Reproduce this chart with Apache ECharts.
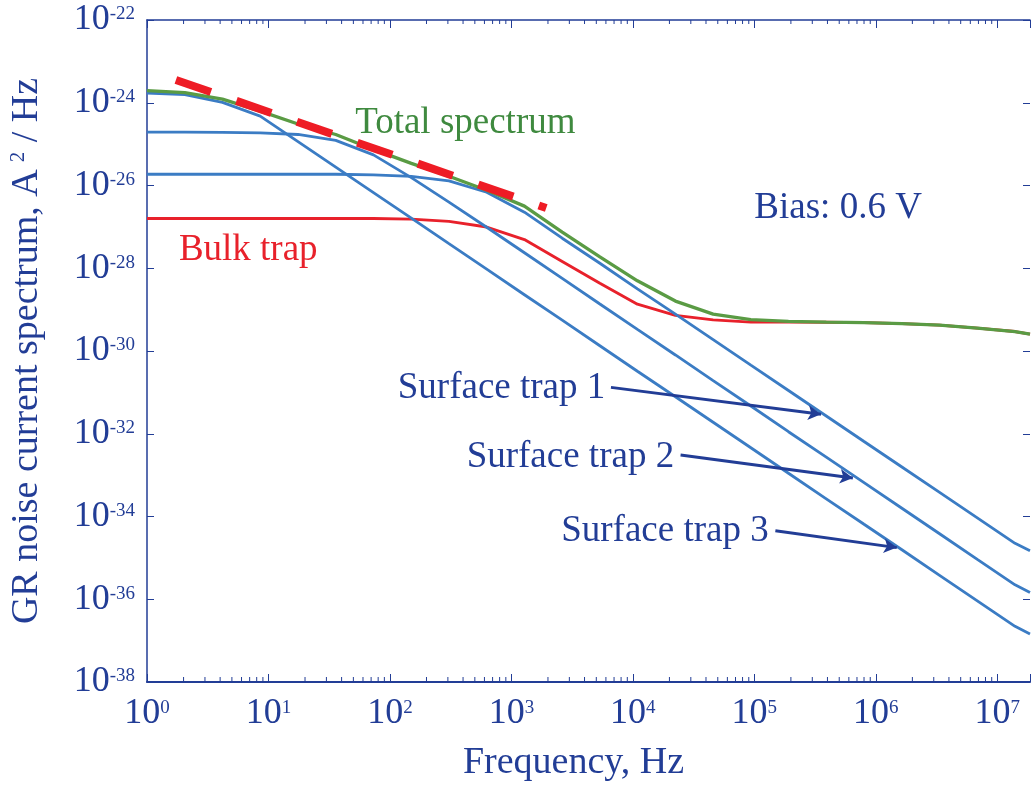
<!DOCTYPE html>
<html>
<head>
<meta charset="utf-8">
<script src="https://cdn.jsdelivr.net/npm/echarts@6/dist/echarts.min.js"></script>
<style>
  html, body { margin: 0; padding: 0; background: #fff; }
  #chart { width: 1033px; height: 787px; }
</style>
</head>
<body>
<div id="chart"></div>
<script>
// frequency grid, Hz
var freq = [1, 2.05, 4.18, 8.55, 17.5, 35.8, 73.2, 150, 306, 626, 1280, 2620, 5350,
  10900, 22400, 45800, 93600, 191000, 391000, 800000, 1.64e6, 3.35e6, 6.85e6, 1.40e7, 1.86e7];

// spectra, A^2/Hz
var totalSpectrum = [1.96e-24, 1.75e-24, 1.22e-24, 6.29e-25, 3.06e-25, 1.71e-25, 7.45e-26, 3.43e-26,
  1.67e-26, 7.69e-27, 3.17e-27, 7.50e-28, 1.88e-28, 4.97e-29, 1.61e-29, 7.76e-30, 5.73e-30,
  5.18e-30, 5.00e-30, 4.86e-30, 4.60e-30, 4.22e-30, 3.58e-30, 2.95e-30, 2.56e-30];
var bulkTrap = [1.60e-27, 1.60e-27, 1.60e-27, 1.60e-27, 1.60e-27, 1.60e-27, 1.60e-27, 1.54e-27,
  1.36e-27, 9.90e-28, 4.95e-28, 1.46e-28, 4.33e-29, 1.35e-29, 7.26e-30, 5.66e-30, 4.99e-30,
  4.99e-30, 4.96e-30, 4.85e-30, 4.59e-30, 4.22e-30, 3.58e-30, 2.95e-30, 2.56e-30];
var surfaceTrap1 = [1.87e-26, 1.87e-26, 1.87e-26, 1.87e-26, 1.87e-26, 1.87e-26, 1.81e-26, 1.67e-26,
  1.30e-26, 6.88e-27, 2.27e-27, 5.32e-28, 1.32e-28, 3.17e-29, 7.76e-30, 1.88e-30, 4.55e-31,
  1.11e-31, 2.69e-32, 6.50e-33, 1.57e-33, 3.81e-34, 9.23e-35, 2.25e-35, 1.48e-35];
var surfaceTrap2 = [1.94e-25, 1.94e-25, 1.92e-25, 1.87e-25, 1.71e-25, 1.23e-25, 5.49e-26, 1.55e-26,
  3.98e-27, 9.79e-28, 2.37e-28, 5.71e-29, 1.37e-29, 3.33e-30, 8.02e-31, 1.93e-31, 4.68e-32,
  1.12e-32, 2.72e-33, 6.56e-34, 1.58e-34, 3.83e-35, 9.20e-36, 2.23e-36, 1.46e-36];
var surfaceTrap3 = [1.72e-24, 1.57e-24, 1.02e-24, 4.74e-25, 1.15e-25, 2.77e-26, 6.71e-27, 1.62e-27,
  3.92e-28, 9.48e-29, 2.29e-29, 5.55e-30, 1.34e-30, 3.24e-31, 7.84e-32, 1.90e-32, 4.59e-33,
  1.11e-33, 2.68e-34, 6.49e-35, 1.57e-35, 3.79e-36, 9.17e-37, 2.22e-37, 1.45e-37];

// 1/f guide (red dashed)
var fitFreq = [1.73, 1936];
var fitValue = [3.56e-24, 2.85e-27];

// annotation anchors [freq, value]
var labelTotal = [51.7, 3.14e-25];
var labelBulk = [1.83, 2.76e-28];
var labelBias = [1.0e5, 2.83e-27];
var labelTrap1 = [116, 1.25e-31];
var labelTrap2 = [428, 2.74e-33];
var labelTrap3 = [2570, 4.29e-35];
var arrowTrap1 = [[6600, 1.32e-31], [3.54e5, 2.96e-32]];
var arrowTrap2 = [[24700, 3.06e-33], [6.48e5, 8.55e-34]];
var arrowTrap3 = [[1.49e5, 4.54e-35], [1.49e6, 1.77e-35]];

var xMin = 1, xMax = 1.86e7, yMin = 1e-38, yMax = 1e-22;

// echarts rounds very small numbers to 0, so values are plotted shifted by 10^30
// and the tick labels shift the exponent back
var yShift = 30;
var yFactor = Math.pow(10, yShift);

var navy = '#223d96';
var blue = '#3b7cc4';
var green = '#5a9b44';
var red = '#e8212b';
var font = 'Liberation Serif';

function pt(f, v) { return [f, v * yFactor]; }
function pairs(xs, ys) {
  return xs.map(function (x, i) { return pt(x, ys[i]); });
}

// minor tick positions for the frequency axis (2..9 per decade)
var minorTicks = [];
for (var k = 0; k < 8; k++) {
  for (var m = 2; m < 10; m++) {
    var t = m * Math.pow(10, k);
    if (t < xMax) minorTicks.push([t, yMin * yFactor]);
  }
}

function powLabel(offset) {
  return function (v) {
    var e = Math.log10(v);
    var r = Math.round(e);
    if (Math.abs(e - r) > 0.01) return '';
    return '{b|10}{s|' + (r - offset) + '}';
  };
}

var labelRich = {
  b: { fontFamily: font, fontSize: 36, lineHeight: 36, color: navy },
  s: { fontFamily: font, fontSize: 19, lineHeight: 19, color: navy, verticalAlign: 'top', padding: [3, 0, 0, 0] }
};

function textPoint(c, text, color) {
  return {
    coord: pt(c[0], c[1]),
    symbol: 'circle',
    symbolSize: 0,
    label: {
      show: true, position: 'right', distance: 0, formatter: text,
      fontFamily: font, fontSize: 37, color: color
    }
  };
}

function arrow(a) {
  return [{ coord: pt(a[0][0], a[0][1]) }, { coord: pt(a[1][0], a[1][1]) }];
}

var arrowStyle = {
  silent: true,
  symbol: ['none', 'arrow'],
  symbolSize: [11, 13],
  label: { show: false },
  lineStyle: { color: navy, width: 3, type: 'solid' },
  animation: false
};

var chart = echarts.init(document.getElementById('chart'));

var option = {
  animation: false,
  backgroundColor: '#fff',
  grid: { left: 147, right: 0, top: 20, bottom: 102 },
  xAxis: [{
    type: 'log', logBase: 10, min: xMin, max: xMax,
    name: 'Frequency, Hz', nameLocation: 'middle', nameGap: 62,
    nameTextStyle: { fontFamily: font, fontSize: 38, lineHeight: 38, color: navy, padding: [0, 30, 0, 0] },
    axisLine: { lineStyle: { color: navy, width: 2 } },
    axisTick: { inside: true, length: 8, lineStyle: { color: navy } },
    axisLabel: { margin: 14, formatter: powLabel(0), rich: labelRich },
    splitLine: { show: false }
  }, {
    type: 'log', logBase: 10, min: xMin, max: xMax, position: 'top',
    axisLine: { lineStyle: { color: navy, width: 1.5 } },
    axisTick: { inside: true, length: 8, lineStyle: { color: navy } },
    axisLabel: { show: false },
    splitLine: { show: false }
  }],
  yAxis: [{
    type: 'log', logBase: 100, min: yMin * yFactor, max: yMax * yFactor,
    name: '{n|GR noise current spectrum, A}{s|2}{n| / Hz}',
    nameLocation: 'middle', nameGap: 101,
    nameTextStyle: {
      rich: {
        n: { fontFamily: font, fontSize: 38, lineHeight: 38, color: navy },
        s: { fontFamily: font, fontSize: 21, lineHeight: 21, color: navy, verticalAlign: 'top', padding: [0, 0, 0, 7] }
      }
    },
    axisLine: { lineStyle: { color: navy, width: 1.5 } },
    axisTick: { inside: true, length: 7, lineStyle: { color: navy } },
    axisLabel: { margin: 12, formatter: powLabel(yShift), rich: labelRich },
    splitLine: { show: false }
  }, {
    type: 'log', logBase: 100, min: yMin * yFactor, max: yMax * yFactor, position: 'right',
    axisLine: { show: false },
    axisTick: { inside: true, length: 7, lineStyle: { color: navy } },
    axisLabel: { show: false },
    splitLine: { show: false }
  }],
  series: [{
    name: 'Bulk trap', type: 'line', showSymbol: false,
    data: pairs(freq, bulkTrap),
    lineStyle: { color: red, width: 2.9 },
    markPoint: { silent: true, data: [textPoint(labelBulk, 'Bulk trap', red)] }
  }, {
    name: 'Surface trap 1', type: 'line', showSymbol: false,
    data: pairs(freq, surfaceTrap1),
    lineStyle: { color: blue, width: 2.8 },
    markPoint: { silent: true, data: [textPoint(labelTrap1, 'Surface trap 1', navy)] },
    markLine: Object.assign({ data: [arrow(arrowTrap1)] }, arrowStyle)
  }, {
    name: 'Surface trap 2', type: 'line', showSymbol: false,
    data: pairs(freq, surfaceTrap2),
    lineStyle: { color: blue, width: 2.8 },
    markPoint: { silent: true, data: [textPoint(labelTrap2, 'Surface trap 2', navy)] },
    markLine: Object.assign({ data: [arrow(arrowTrap2)] }, arrowStyle)
  }, {
    name: 'Surface trap 3', type: 'line', showSymbol: false,
    data: pairs(freq, surfaceTrap3),
    lineStyle: { color: blue, width: 2.8 },
    markPoint: { silent: true, data: [textPoint(labelTrap3, 'Surface trap 3', navy)] },
    markLine: Object.assign({ data: [arrow(arrowTrap3)] }, arrowStyle)
  }, {
    name: 'Total spectrum', type: 'line', showSymbol: false,
    data: pairs(freq, totalSpectrum),
    lineStyle: { color: green, width: 3.3 },
    markPoint: {
      silent: true,
      data: [textPoint(labelTotal, 'Total spectrum', '#3f8a3f'), textPoint(labelBias, 'Bias: 0.6 V', navy)]
    }
  }, {
    name: '1/f', type: 'line', showSymbol: false,
    data: pairs(fitFreq, fitValue),
    lineStyle: { color: '#ee1c25', width: 8, type: [37, 27], cap: 'butt' }
  }, {
    // minor ticks on bottom and top frequency axes
    type: 'custom', silent: true,
    data: minorTicks,
    renderItem: function (params, api) {
      var pb = api.coord([api.value(0), yMin * yFactor]);
      var ptop = api.coord([api.value(0), yMax * yFactor]);
      return {
        type: 'group',
        children: [
          { type: 'line', shape: { x1: pb[0], y1: pb[1], x2: pb[0], y2: pb[1] - 5 }, style: { stroke: navy, lineWidth: 1 } },
          { type: 'line', shape: { x1: ptop[0], y1: ptop[1], x2: ptop[0], y2: ptop[1] + 4 }, style: { stroke: navy, lineWidth: 1 } }
        ]
      };
    }
  }]
};

chart.setOption(option);
</script>
</body>
</html>
